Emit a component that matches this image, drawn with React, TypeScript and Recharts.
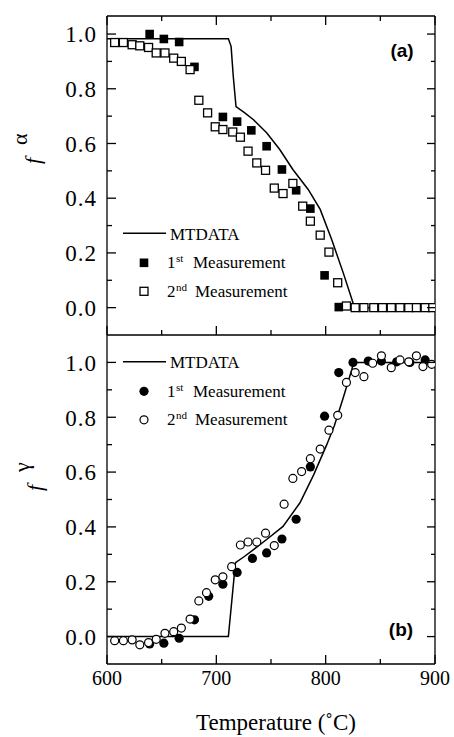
import { ComposedChart, Line, Scatter, XAxis, YAxis } from "recharts";

const SERIF = '"Liberation Serif", serif';
const SANS = '"Liberation Sans", Arial, sans-serif';

const xTicks = [600, 650, 700, 750, 800, 850, 900];
const yTicks = [0, 0.1, 0.2, 0.3, 0.4, 0.5, 0.6, 0.7, 0.8, 0.9, 1.0];

// panel (a): alpha fraction
const mtTempA = [600, 711, 713.5, 715.5, 718, 726, 734, 746, 758, 770, 784, 795, 805.5, 816, 825, 826.5, 900];
const mtValA = [0.983, 0.983, 0.955, 0.845, 0.735, 0.712, 0.687, 0.639, 0.578, 0.505, 0.432, 0.359, 0.249, 0.128, 0.018, 0, 0];

const firstTempA = [639, 652, 666, 680, 706, 719, 732, 746, 760, 773, 786, 799, 812];
const firstValA = [1.0, 0.982, 0.971, 0.88, 0.697, 0.68, 0.648, 0.59, 0.505, 0.429, 0.362, 0.118, 0.002];

const secondTempA = [607, 615, 623, 630, 638, 645, 653, 661, 668, 676, 684, 692, 699, 706, 715, 722, 729, 737, 745, 753,
  761, 770, 779, 786, 795, 803, 811, 819, 827, 835, 844, 852, 860, 868, 876, 883, 891, 898];
const secondValA = [0.969, 0.969, 0.961, 0.957, 0.951, 0.931, 0.931, 0.912, 0.9, 0.87, 0.758, 0.712, 0.661, 0.651, 0.642, 0.623, 0.572, 0.529, 0.502, 0.437,
  0.417, 0.454, 0.371, 0.316, 0.265, 0.203, 0.091, 0.006, 0, 0, 0, 0, 0, 0, 0, 0, 0, 0];

// panel (b): gamma fraction
const mtTempB = [600, 711, 717.5, 726, 734, 746, 761, 776.5, 789, 801, 808, 816, 824, 825.5, 900];
const mtValB = [0, 0, 0.27, 0.293, 0.317, 0.354, 0.402, 0.488, 0.59, 0.7, 0.77, 0.87, 0.975, 1.0, 1.0];

const firstTempB = [639, 652, 666, 680, 693, 706, 719, 733, 746, 760, 773, 786, 799, 812, 825, 839, 851, 865, 877, 891];
const firstValB = [-0.027, -0.024, -0.006, 0.061, 0.147, 0.191, 0.234, 0.285, 0.305, 0.356, 0.428, 0.619, 0.804, 0.963, 1.0, 1.005, 1.005, 1.002, 1.0, 1.009];

const secondTempB = [607, 615, 623, 630, 638, 645, 653, 661, 668, 676, 684, 691, 699, 706, 714, 722, 729, 737, 745, 753,
  762, 770, 778, 786, 795, 803, 811, 819, 827, 835, 843, 851, 860, 868, 876, 883, 889, 897];
const secondValB = [-0.015, -0.015, -0.012, -0.03, -0.022, -0.01, 0.012, 0.018, 0.031, 0.064, 0.13, 0.16, 0.207, 0.218, 0.255, 0.334, 0.345, 0.345, 0.377, 0.332,
  0.483, 0.577, 0.602, 0.649, 0.684, 0.753, 0.807, 0.927, 0.963, 0.948, 0.997, 1.024, 0.981, 1.009, 1.002, 1.024, 0.985, 0.993];

const zip = (t: number[], v: number[]) => t.map((x, i) => ({ x, y: v[i] }));

const isMajorX = (v: number) => v % 100 === 0;
const isMajorY = (v: number) => Math.round(v * 10) % 2 === 0;

const serif = (size: number, extra: any = {}) => ({ fontFamily: SERIF, fontSize: size, ...extra });

const LeftTick = (props: any) => {
  const { x, y, payload } = props;
  const major = isMajorY(payload.value);
  return (
    <g>
      <line x1={x} y1={y} x2={x + (major ? 9 : 5)} y2={y} stroke="#000" strokeWidth={1.3} />
      {major && (
        <text x={x - 10} y={y} dy="0.36em" textAnchor="end" fill="#000" style={serif(23, { letterSpacing: 1 })}>
          {payload.value.toFixed(1)}
        </text>
      )}
    </g>
  );
};

const RightTick = (props: any) => {
  const { x, y, payload } = props;
  const len = isMajorY(payload.value) ? 8 : 4;
  return <line x1={x} y1={y} x2={x - len} y2={y} stroke="#000" strokeWidth={1.3} />;
};

const TopTick = (props: any) => {
  const { x, y, payload } = props;
  const len = isMajorX(payload.value) ? 9 : 5;
  return <line x1={x} y1={y} x2={x} y2={y + len} stroke="#000" strokeWidth={1.3} />;
};

const BottomTick = (props: any) => {
  const { x, y, payload, showLabel } = props;
  const major = isMajorX(payload.value);
  return (
    <g>
      <line x1={x} y1={y} x2={x} y2={y - (major ? 9 : 5)} stroke="#000" strokeWidth={1.3} />
      {showLabel && major && (
        <text x={x} y={y + 21} textAnchor="middle" fill="#000" style={serif(20)}>
          {payload.value}
        </text>
      )}
    </g>
  );
};

const Square = (filled: boolean) => (p: any) =>
  filled ? (
    <rect x={p.cx - 4.3} y={p.cy - 4.3} width={8.6} height={8.6} fill="#000" />
  ) : (
    <rect x={p.cx - 4} y={p.cy - 4} width={8} height={8} fill="#fff" stroke="#000" strokeWidth={1.3} />
  );

const Circle = (filled: boolean) => (p: any) =>
  filled ? (
    <circle cx={p.cx} cy={p.cy} r={4.6} fill="#000" />
  ) : (
    <circle cx={p.cx} cy={p.cy} r={4} fill="#fff" stroke="#000" strokeWidth={1.2} />
  );

const axisLine = { stroke: "#000", strokeWidth: 1.3 };

function Panel(props: {
  top: number;
  height: number;
  marginTop: number;
  bottomHeight: number;
  domain: [number, number];
  line: { x: number; y: number }[];
  first: { x: number; y: number }[];
  second: { x: number; y: number }[];
  marker: (filled: boolean) => (p: any) => any;
  topAxis: boolean;
  labels: boolean;
}) {
  return (
    <div style={{ position: "absolute", left: 0, top: props.top }}>
      <ComposedChart width={454} height={props.height} margin={{ top: props.marginTop, right: 0, bottom: 0, left: 0 }}>
        {props.topAxis && (
          <XAxis xAxisId="t" orientation="top" type="number" dataKey="x" domain={[600, 900]} ticks={xTicks}
            interval={0} height={16} tickSize={0} tickMargin={0} tickLine={false} axisLine={axisLine}
            tick={<TopTick />} allowDataOverflow />
        )}
        <XAxis xAxisId="b" orientation="bottom" type="number" dataKey="x" domain={[600, 900]} ticks={xTicks}
          interval={0} height={props.bottomHeight} tickSize={0} tickMargin={0} tickLine={false} axisLine={axisLine}
          tick={<BottomTick showLabel={props.labels} />} allowDataOverflow />
        <YAxis yAxisId="l" orientation="left" type="number" dataKey="y" domain={props.domain} ticks={yTicks}
          interval={0} width={107} tickSize={0} tickMargin={0} tickLine={false} axisLine={axisLine}
          tick={<LeftTick />} allowDataOverflow />
        <YAxis yAxisId="r" orientation="right" type="number" domain={props.domain} ticks={yTicks}
          interval={0} width={19} tickSize={0} tickMargin={0} tickLine={false} axisLine={axisLine}
          tick={<RightTick />} allowDataOverflow />
        <Line xAxisId="b" yAxisId="l" data={props.line} dataKey="y" type="linear" stroke="#000"
          strokeWidth={1.5} dot={false} activeDot={false} isAnimationActive={false} />
        <Scatter xAxisId="b" yAxisId="l" data={props.first} dataKey="y" shape={props.marker(true)} isAnimationActive={false} />
        <Scatter xAxisId="b" yAxisId="l" data={props.second} dataKey="y" shape={props.marker(false)} isAnimationActive={false} />
      </ComposedChart>
    </div>
  );
}

function Legend(props: { y: number; marker: "square" | "circle" }) {
  const { y, marker } = props;
  const sym = (cy: number, filled: boolean) =>
    marker === "square" ? (
      filled ? (
        <rect x={144 - 4.3} y={cy - 4.3} width={8.6} height={8.6} fill="#000" />
      ) : (
        <rect x={140} y={cy - 4} width={8} height={8} fill="#fff" stroke="#000" strokeWidth={1.3} />
      )
    ) : filled ? (
      <circle cx={144} cy={cy} r={4.6} fill="#000" />
    ) : (
      <circle cx={144} cy={cy} r={4} fill="#fff" stroke="#000" strokeWidth={1.2} />
    );
  const t = serif(17);
  const s = serif(11);
  return (
    <g fill="#000">
      <line x1={123} y1={y} x2={166} y2={y} stroke="#000" strokeWidth={1.5} />
      <text x={170} y={y + 6.3} style={t}>MTDATA</text>
      {sym(y + 29.5, true)}
      <text x={167} y={y + 35} style={t}>1</text>
      <text x={176} y={y + 29} style={s}>st</text>
      <text x={193} y={y + 35} style={t}>Measurement</text>
      {sym(y + 58, false)}
      <text x={167} y={y + 63.5} style={t}>2</text>
      <text x={176} y={y + 57.5} style={s}>nd</text>
      <text x={195} y={y + 63.5} style={t}>Measurement</text>
    </g>
  );
}

// rotated y-axis title: italic f with a raised greek letter
function YTitle(props: { x: number; y: number; sup: string }) {
  const { x, y, sup } = props;
  return (
    <g>
      <text x={x} y={y} transform={`rotate(-90 ${x} ${y})`} style={serif(22, { fontStyle: "italic" })}>f</text>
      <text x={x - 13} y={y - 19} transform={`rotate(-90 ${x - 13} ${y - 19})`} style={serif(22)}>{sup}</text>
    </g>
  );
}

export default function App() {
  return (
    <div style={{ position: "absolute", left: 0, top: 0, width: 454, height: 737, background: "#fff" }}>
      <Panel top={0} height={360} marginTop={0} bottomHeight={25} domain={[-0.1, 1.066]}
        line={zip(mtTempA, mtValA)} first={zip(firstTempA, firstValA)} second={zip(secondTempA, secondValA)}
        marker={Square} topAxis labels={false} />
      <Panel top={310} height={427} marginTop={25} bottomHeight={73} domain={[-0.1, 1.1]}
        line={zip(mtTempB, mtValB)} first={zip(firstTempB, firstValB)} second={zip(secondTempB, secondValB)}
        marker={Circle} topAxis={false} labels />
      <svg width={454} height={737} style={{ position: "absolute", left: 0, top: 0, pointerEvents: "none" }}>
        <Legend y={233.3} marker="square" />
        <Legend y={361.8} marker="circle" />
        <text x={402} y={57} textAnchor="middle" style={{ fontFamily: SANS, fontWeight: "bold", fontSize: 19 }}>(a)</text>
        <text x={401} y={636} textAnchor="middle" style={{ fontFamily: SANS, fontWeight: "bold", fontSize: 19 }}>(b)</text>
        <YTitle x={40} y={164} sup="α" />
        <YTitle x={42} y={491} sup="γ" />
        <text x={276} y={730} textAnchor="middle" style={serif(23)}>Temperature (˚C)</text>
      </svg>
    </div>
  );
}
